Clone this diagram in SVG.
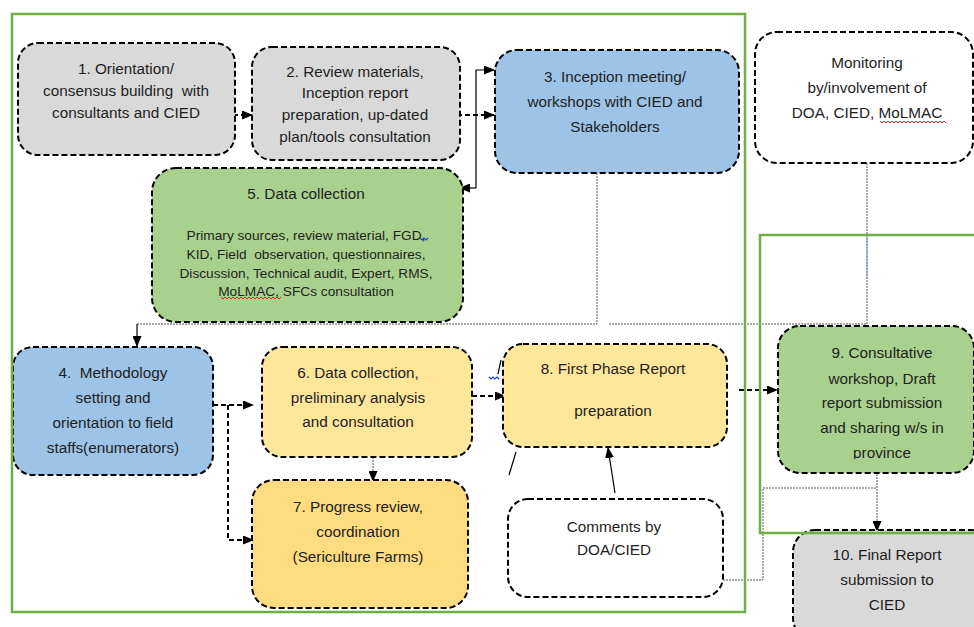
<svg xmlns="http://www.w3.org/2000/svg" width="974" height="627" viewBox="0 0 974 627">
  <defs>
    <marker id="arrow" markerUnits="userSpaceOnUse" markerWidth="11" markerHeight="9" refX="10" refY="4.5" orient="auto">
      <path d="M0,0 L11,4.5 L0,9 z" fill="#000"/>
    </marker>
    <clipPath id="clip9">
      <rect x="778" y="326" width="200" height="133"/>
    </clipPath>
    <style>
      .box { stroke: #000; stroke-width: 2; stroke-dasharray: 6 3; }
      .grey { fill: #d9d9d9; }
      .blue { fill: #9dc3e6; }
      .green { fill: #a9d18e; }
      .yellow { fill: #ffe699; }
      .yellow2 { fill: #ffdc80; }
      .white { fill: #ffffff; }
      .frame { fill: none; stroke: #70ad47; stroke-width: 2.5; }
      .t { font-family: "Liberation Sans", Arial, sans-serif; font-size: 15.3px; fill: #1e1e1e; text-anchor: middle; }
      .s { font-size: 13.7px; }
      .dash { fill: none; stroke: #000; stroke-width: 2; stroke-dasharray: 5 3; }
      .solid { fill: none; stroke: #000; stroke-width: 1.2; }
      .dot { fill: none; stroke: #555; stroke-width: 1; stroke-dasharray: 2 1; }
      .squig-red { fill: none; stroke: #e02020; stroke-width: 1; }
      .squig-blue { fill: none; stroke: #1f3fe0; stroke-width: 1.2; }
    </style>
  </defs>

  <rect width="974" height="627" fill="#ffffff"/>

  <!-- connectors -->
  <g id="connectors">
    <path class="dash" d="M217,115 H252" marker-end="url(#arrow)"/>
    <path class="dash" d="M457,115 H494" marker-end="url(#arrow)"/>
    <path class="solid" d="M476,188 V70 H494" marker-end="url(#arrow)"/>
    <path class="solid" d="M476,188 H460" marker-end="url(#arrow)"/>
    <path class="dot" d="M597,173 V324 H137"/>
    <path class="solid" d="M137,324 V346" marker-end="url(#arrow)"/>
    <path class="dot" d="M867,163 V324 H608"/>
    <path d="M867,237 V277" fill="none" stroke="#5b9bd5" stroke-width="1" stroke-dasharray="2 1"/>
    <path class="dash" d="M213,405 H253" marker-end="url(#arrow)"/>
    <path class="dash" d="M228,405 V540 H253" marker-end="url(#arrow)"/>
    <path class="dot" d="M373,457 V481" marker-end="url(#arrow)"/>
    <path class="dash" d="M472,396 H505" marker-end="url(#arrow)"/>
    <path class="dash" d="M739,390 H777" marker-end="url(#arrow)"/>
    <path class="solid" d="M615,493 L608,448" marker-end="url(#arrow)"/>
    <path class="solid" d="M516,452 L509,475"/>
    <path class="dot" d="M723,580 H763 V488 H877"/>
    <path class="dot" d="M877,468 V531" marker-end="url(#arrow)"/>
  </g>

  <!-- node 1 -->
  <g id="node1">
    <rect class="box grey" x="18" y="43" width="217" height="112" rx="20"/>
    <text class="t" x="126" y="74">1. Orientation/</text>
    <text class="t" x="126" y="96">consensus building&#160; with</text>
    <text class="t" x="126" y="118">consultants and CIED</text>
  </g>

  <!-- node 2 -->
  <g id="node2">
    <rect class="box grey" x="252" y="47" width="208" height="113" rx="20"/>
    <text class="t" x="355" y="77">2. Review materials,</text>
    <text class="t" x="355" y="98">Inception report</text>
    <text class="t" x="355" y="120">preparation, up-dated</text>
    <text class="t" x="355" y="142">plan/tools consultation</text>
  </g>

  <!-- node 3 -->
  <g id="node3">
    <rect class="box blue" x="495" y="50" width="244" height="123" rx="22"/>
    <text class="t" x="615" y="82">3. Inception meeting/</text>
    <text class="t" x="615" y="107">workshops with CIED and</text>
    <text class="t" x="615" y="132">Stakeholders</text>
  </g>

  <!-- monitoring -->
  <g id="monitoring">
    <rect class="box white" x="755" y="32" width="218" height="131" rx="22"/>
    <text class="t" x="867" y="68">Monitoring</text>
    <text class="t" x="867" y="93">by/involvement of</text>
    <text class="t" x="867" y="118">DOA, CIED, MoLMAC</text>
    <path class="squig-red" d="M880,121 l2,2 l2,-2 l2,2 l2,-2 l2,2 l2,-2 l2,2 l2,-2 l2,2 l2,-2 l2,2 l2,-2 l2,2 l2,-2 l2,2 l2,-2 l2,2 l2,-2 l2,2 l2,-2 l2,2 l2,-2 l2,2 l2,-2 l2,2 l2,-2 l2,2 l2,-2 l2,2 l2,-2 l2,2 l2,-2 l2,2"/>
  </g>

  <!-- node 5 -->
  <g id="node5">
    <rect class="box green" x="152" y="168" width="311" height="154" rx="24"/>
    <text class="t" x="306" y="199">5. Data collection</text>
    <text class="t s" x="306" y="240">Primary sources, review material, FGD,</text>
    <text class="t s" x="306" y="259">KID, Field&#160; observation, questionnaires,</text>
    <text class="t s" x="306" y="278">Discussion, Technical audit, Expert, RMS,</text>
    <text class="t s" x="306" y="296">MoLMAC, SFCs consultation</text>
    <path class="squig-blue" d="M420,238 l2,2 l2,-2 l2,2 l2,-2"/>
    <path class="squig-red" d="M221,297 l2,2 l2,-2 l2,2 l2,-2 l2,2 l2,-2 l2,2 l2,-2 l2,2 l2,-2 l2,2 l2,-2 l2,2 l2,-2 l2,2 l2,-2 l2,2 l2,-2 l2,2 l2,-2 l2,2 l2,-2 l2,2 l2,-2 l2,2 l2,-2 l2,2 l2,-2 l2,2 l2,-2"/>
  </g>

  <!-- node 4 -->
  <g id="node4">
    <rect class="box blue" x="13" y="347" width="200" height="128" rx="20"/>
    <text class="t" x="113" y="378">4.&#160; Methodology</text>
    <text class="t" x="113" y="403">setting and</text>
    <text class="t" x="113" y="428">orientation to field</text>
    <text class="t" x="113" y="453">staffs(enumerators)</text>
  </g>

  <!-- node 6 -->
  <g id="node6">
    <rect class="box yellow" x="262" y="347" width="210" height="110" rx="20"/>
    <text class="t" x="358" y="378">6. Data collection,</text>
    <text class="t" x="358" y="403">preliminary analysis</text>
    <text class="t" x="358" y="427">and consultation</text>
  </g>

  <!-- node 7 -->
  <g id="node7">
    <rect class="box yellow2" x="252" y="480" width="216" height="128" rx="22"/>
    <text class="t" x="358" y="512">7. Progress review,</text>
    <text class="t" x="358" y="537">coordination</text>
    <text class="t" x="358" y="562">(Sericulture Farms)</text>
  </g>

  <!-- node 8 -->
  <g id="node8">
    <rect class="box yellow" x="503" y="344" width="224" height="103" rx="20"/>
    <text class="t" x="613" y="374">8. First Phase Report</text>
    <text class="t" x="613" y="416">preparation</text>
    <path class="squig-blue" d="M489,377 l2,2 l2,-2 l2,2 l2,-2 l2,2"/>
    <path class="solid" d="M501,360 L498,374"/>
  </g>

  <!-- comments -->
  <g id="comments">
    <rect class="box white" x="508" y="499" width="215" height="98" rx="20"/>
    <text class="t" x="614" y="532">Comments by</text>
    <text class="t" x="614" y="555">DOA/CIED</text>
  </g>

  <!-- node 9 -->
  <g id="node9">
    <rect class="box green" x="778" y="326" width="196" height="147" rx="22"/>
    <text class="t" x="882" y="358">9. Consultative</text>
    <text class="t" x="882" y="384">workshop, Draft</text>
    <text class="t" x="882" y="408">report submission</text>
    <text class="t" x="882" y="433">and sharing w/s in</text>
    <text class="t" x="882" y="458" clip-path="url(#clip9)">province</text>
  </g>

  <!-- node 10 -->
  <g id="node10">
    <rect class="box grey" x="793" y="530" width="200" height="110" rx="22"/>
    <text class="t" x="887" y="560">10. Final Report</text>
    <text class="t" x="887" y="585">submission to</text>
    <text class="t" x="887" y="610">CIED</text>
  </g>

  <!-- phase frames -->
  <g id="frames">
    <rect class="frame" x="12" y="14" width="733" height="598"/>
    <rect class="frame" x="760" y="235" width="230" height="298"/>
  </g>
</svg>
